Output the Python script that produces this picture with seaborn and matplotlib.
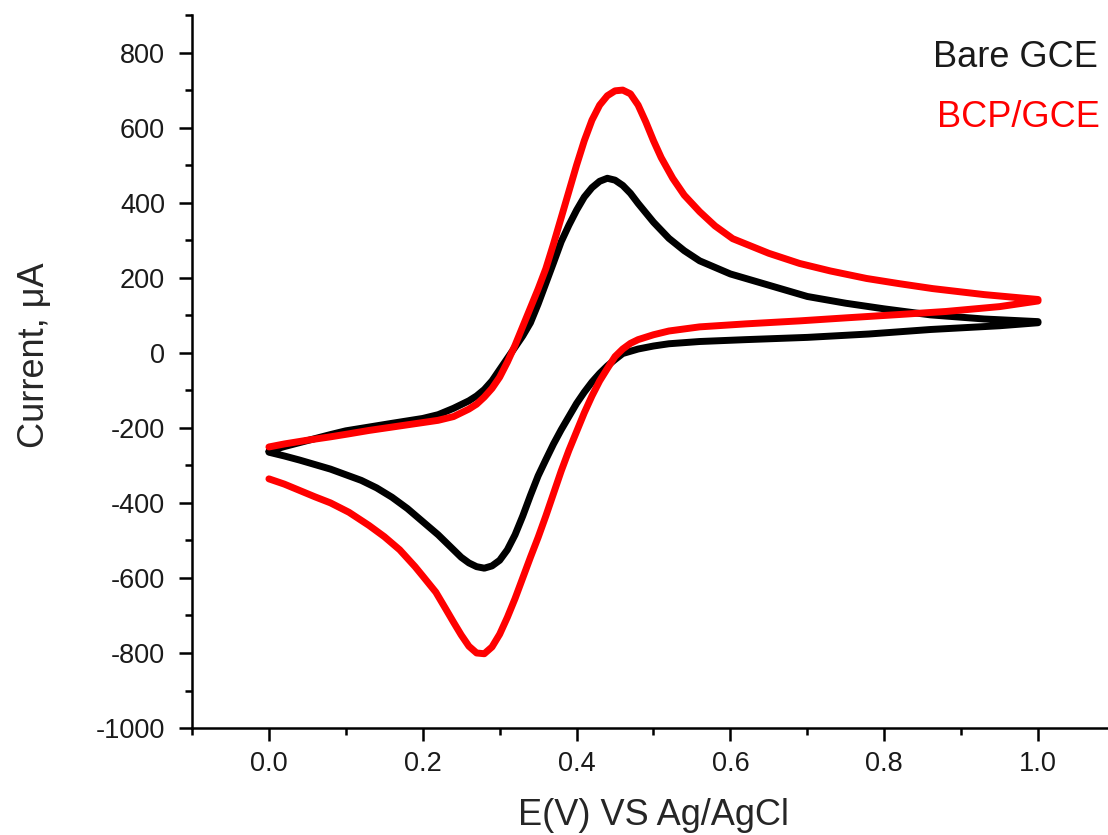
import numpy as np
import pandas as pd
import matplotlib
matplotlib.use("Agg")
import matplotlib.pyplot as plt
import seaborn as sns
from matplotlib.ticker import MultipleLocator

# Bare GCE: forward scan 0 -> 1 V, then reverse 1 -> 0 V
bare_fwd_E = [0.00, 0.02, 0.05, 0.08, 0.10, 0.13, 0.16, 0.20, 0.22, 0.24, 0.26, 0.27,
              0.28, 0.29, 0.30, 0.31, 0.32, 0.33, 0.34, 0.35, 0.36, 0.37, 0.38, 0.39,
              0.40, 0.41, 0.42, 0.43, 0.44, 0.45, 0.46, 0.47, 0.48, 0.50, 0.52, 0.54,
              0.56, 0.60, 0.65, 0.70, 0.75, 0.80, 0.86, 0.93, 1.00]
bare_fwd_I = [-262, -250, -234, -218, -208, -198, -188, -175, -165, -148, -128, -115,
              -98, -75, -45, -15, 15, 45, 80, 130, 185, 240, 296, 340,
              380, 415, 440, 457, 465, 460, 446, 425, 398, 348, 305, 272,
              245, 210, 180, 150, 132, 117, 101, 90, 83]
bare_rev_E = [1.00, 0.95, 0.86, 0.78, 0.70, 0.62, 0.56, 0.52, 0.50, 0.48, 0.46, 0.45,
              0.44, 0.43, 0.42, 0.41, 0.40, 0.39, 0.38, 0.37, 0.36, 0.35, 0.34, 0.33,
              0.32, 0.31, 0.30, 0.29, 0.28, 0.27, 0.26, 0.25, 0.24, 0.22, 0.20, 0.18,
              0.16, 0.14, 0.12, 0.10, 0.08, 0.06, 0.04, 0.02, 0.00]
bare_rev_I = [80, 72, 62, 50, 41, 35, 30, 24, 18, 10, -2, -18,
              -35, -55, -78, -105, -135, -170, -205, -243, -285, -328, -380, -435,
              -485, -525, -553, -568, -574, -570, -560, -545, -525, -485, -450, -415,
              -385, -360, -340, -325, -310, -298, -286, -275, -265]

# BCP/GCE
bcp_fwd_E = [0.00, 0.02, 0.05, 0.08, 0.104, 0.13, 0.16, 0.20, 0.22, 0.24, 0.26, 0.27,
             0.28, 0.29, 0.30, 0.31, 0.32, 0.33, 0.34, 0.35, 0.36, 0.37, 0.38, 0.39,
             0.40, 0.41, 0.42, 0.43, 0.44, 0.45, 0.46, 0.47, 0.48, 0.49, 0.50, 0.51,
             0.525, 0.54, 0.56, 0.58, 0.603, 0.65, 0.69, 0.73, 0.777, 0.82, 0.863,
             0.93, 1.00]
bcp_fwd_I = [-251, -243, -233, -224, -216, -207, -198, -186, -180, -170, -150, -137,
             -118, -95, -65, -25, 20, 70, 120, 170, 224, 290, 360, 430,
             500, 565, 620, 660, 685, 698, 700, 690, 660, 615, 565, 520,
             465, 420, 376, 338, 304, 265, 238, 218, 198, 184, 171,
             155, 142]
bcp_rev_E = [1.00, 0.95, 0.88, 0.82, 0.75, 0.69, 0.62, 0.56, 0.52, 0.50, 0.48, 0.47,
             0.46, 0.45, 0.44, 0.43, 0.42, 0.41, 0.40, 0.39, 0.38, 0.37, 0.36, 0.35,
             0.34, 0.33, 0.32, 0.31, 0.30, 0.29, 0.28, 0.27, 0.26, 0.25, 0.24, 0.23,
             0.217, 0.20, 0.19, 0.17, 0.15, 0.13, 0.104, 0.08, 0.06, 0.04, 0.02, 0.00]
bcp_rev_I = [138, 123, 110, 102, 93, 85, 77, 69, 58, 48, 35, 25,
             10, -10, -42, -75, -115, -160, -210, -260, -315, -375, -435, -492,
             -545, -600, -655, -705, -750, -784, -802, -800, -782, -752, -718, -683,
             -638, -595, -570, -525, -490, -460, -425, -400, -384, -367, -350, -336]

x_ticks = [0.0, 0.2, 0.4, 0.6, 0.8, 1.0]
y_ticks = [-1000, -800, -600, -400, -200, 0, 200, 400, 600, 800]

# build a long table, keeping the scan order
frames = []
for name, E, I in [("Bare GCE", bare_fwd_E + bare_rev_E, bare_fwd_I + bare_rev_I),
                   ("BCP/GCE", bcp_fwd_E + bcp_rev_E, bcp_fwd_I + bcp_rev_I)]:
    frames.append(pd.DataFrame({"E": E, "I": I, "electrode": name}))
df = pd.concat(frames, ignore_index=True)

sns.set_style("ticks")
plt.rcParams['font.family'] = ['Liberation Sans', 'DejaVu Sans']
plt.rcParams['axes.unicode_minus'] = False

fig = plt.figure(figsize=(11.08, 8.35), dpi=100)
ax = fig.add_axes([0.1733, 0.1281, 0.8330, 0.8539])

sns.lineplot(data=df, x="E", y="I", hue="electrode", sort=False, estimator=None,
             palette={"Bare GCE": "#000000", "BCP/GCE": "#ff0000"},
             linewidth=5, legend=False, ax=ax)

ax.set_xlim(-0.1, 1.1)
ax.set_ylim(-1000, 900)
ax.set_xticks(x_ticks)
ax.set_xticklabels([f"{t:.1f}" for t in x_ticks])
ax.set_yticks(y_ticks)
ax.xaxis.set_minor_locator(MultipleLocator(0.1))
ax.yaxis.set_minor_locator(MultipleLocator(100))

for side in ["top", "right"]:
    ax.spines[side].set_visible(False)
for side in ["left", "bottom"]:
    ax.spines[side].set_linewidth(1.8)
    ax.spines[side].set_color("black")

ax.tick_params(which="major", length=9.5, width=1.8, direction="out", labelsize=19.5,
               colors="black", labelcolor="#1a1a1a")
ax.tick_params(which="minor", length=5, width=1.8, direction="out", colors="black")
ax.tick_params(axis="x", which="major", pad=7)
ax.tick_params(axis="y", which="major", pad=10)

ax.set_xlabel("E(V) VS Ag/AgCl", fontsize=26)
ax.set_ylabel("Current, \u03bcA", fontsize=26)
ax.xaxis.set_label_coords(0.5, -0.098)
ax.yaxis.set_label_coords(-0.152, 0.523)

ax.text(0.803, 0.941, "Bare GCE", transform=ax.transAxes, fontsize=26,
        color="#1a1a1a", ha="left", va="center")
ax.text(0.807, 0.856, "BCP/GCE", transform=ax.transAxes, fontsize=26,
        color="#ff0000", ha="left", va="center")

fig.savefig("out.png", dpi=100)
